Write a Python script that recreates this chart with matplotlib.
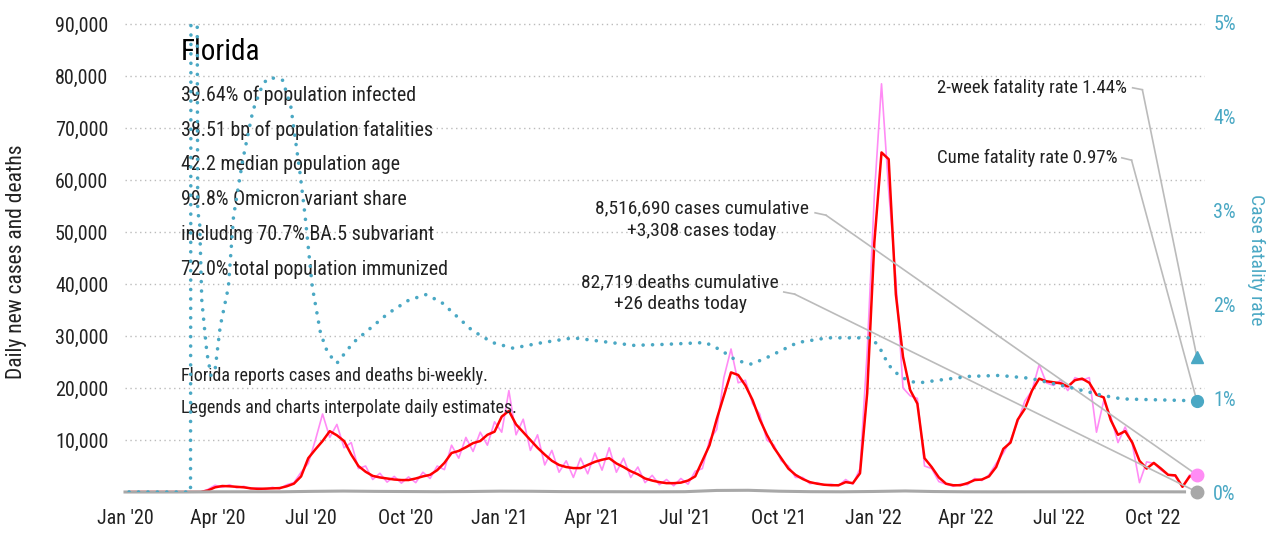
import pandas as pd
import matplotlib
matplotlib.use('Agg')
import matplotlib.pyplot as plt
import matplotlib.dates as mdates
from matplotlib import font_manager

# narrow font if we have one
avail = {f.name for f in font_manager.fontManager.ttflist}
base = 'DejaVu Sans'
for fam in ['Liberation Sans Narrow', 'Roboto Condensed', 'DejaVu Sans Condensed', 'Liberation Sans']:
    if fam in avail:
        base = fam
        break
plt.rcParams['font.family'] = [base, 'DejaVu Sans']

# daily new cases, 7-day average (weekly readings from 2020-01-05)
cases_avg = [
    0, 0, 0, 0, 0, 0, 0, 0, 0, 0,
    0, 300, 900, 1150, 1100, 1000, 900, 700, 600, 650,
    700, 750, 1100, 1600, 3000, 6500, 8200, 9800, 11700, 10900,
    9800, 7200, 5000, 3900, 3100, 2800, 2600, 2400, 2300, 2300,
    2600, 3000, 3300, 4200, 5600, 7500, 7900, 8600, 9400, 9800,
    11000, 11600, 14500, 15600, 13000, 11500, 10000, 8500, 7200, 6000,
    5200, 4800, 4600, 4600, 5200, 5800, 6200, 6500, 5500, 4800,
    4000, 3400, 2600, 2200, 1900, 1700, 1700, 1800, 2200, 3000,
    6000, 9000, 14000, 18500, 23000, 22500, 20500, 17700, 14000, 11000,
    8500, 6500, 4500, 3300, 2500, 1900, 1600, 1400, 1300, 1300,
    1900, 1700, 3600, 19000, 48000, 65300, 64000, 38000, 26000, 19600,
    17000, 6500, 4800, 2800, 1600, 1300, 1300, 1700, 2300, 2400,
    3000, 4800, 8300, 9500, 13900, 16000, 19500, 21800, 21300, 21100,
    20900, 20300, 21500, 21800, 21000, 18700, 18200, 13800, 11000, 11700,
    9500, 6000, 4500, 5600, 4500, 3300, 3200, 1000, 3000, 3308,
]

# daily new cases as reported / interpolated
cases_raw = [
    0, 0, 0, 0, 0, 0, 0, 0, 0, 0,
    0, 500, 1300, 900, 1400, 800, 1100, 600, 800, 500,
    900, 600, 1400, 1800, 3800, 5500, 10000, 15000, 10500, 13000,
    8500, 9500, 4500, 5000, 2400, 3600, 1900, 3000, 1700, 2900,
    1800, 3800, 2600, 5000, 4300, 9000, 6500, 10500, 7800, 11500,
    9000, 13500, 11500, 19500, 11000, 14000, 8000, 11000, 5200, 8000,
    3800, 6000, 2800, 6500, 3500, 7500, 4200, 8500, 3800, 6500,
    2800, 4800, 1800, 3200, 1400, 2400, 1200, 2600, 1500, 4000,
    4500, 10000, 12000, 22000, 27500, 21000, 21500, 17000, 15000, 10000,
    9000, 6000, 5000, 2800, 2800, 1600, 1800, 1300, 1500, 1200,
    2400, 1500, 4500, 27000, 57000, 78500, 58000, 41000, 20000, 18500,
    18000, 5000, 4500, 2000, 1500, 1100, 1500, 1400, 2600, 2200,
    3300, 5500, 7500, 10000, 13500, 17500, 19500, 24500, 21000, 20500,
    21500, 19500, 22000, 21500, 22000, 11500, 17500, 14500, 9500, 12500,
    9200, 1800, 5800, 5500, 4200, 3300, 3000, 1000, 3300, 3308,
]
weeks = pd.date_range('2020-01-05', periods=len(cases_avg), freq='7D')

# daily deaths, monthly readings
deaths = [0, 0, 5, 40, 45, 40, 120, 180, 120, 90, 60, 90,
          160, 140, 80, 60, 50, 40, 60, 300, 330, 150, 60, 40,
          100, 200, 90, 40, 30, 40, 40, 50, 50, 40, 26]
death_dates = pd.date_range('2020-01-01', periods=len(deaths), freq='MS')

# case fatality rate, %
cfr_dates = pd.to_datetime([
    '2020-01-05', '2020-03-05', '2020-03-06', '2020-03-10', '2020-03-12', '2020-03-14',
    '2020-03-16', '2020-03-21', '2020-03-25', '2020-03-29', '2020-04-03', '2020-04-11',
    '2020-04-16', '2020-04-25', '2020-05-05', '2020-05-15', '2020-05-22', '2020-06-03',
    '2020-06-11', '2020-06-20', '2020-06-25', '2020-07-02', '2020-07-10', '2020-07-17',
    '2020-07-26', '2020-08-11', '2020-09-14', '2020-10-04', '2020-10-21', '2020-11-05',
    '2020-12-05', '2020-12-25', '2021-01-14', '2021-02-12', '2021-03-14', '2021-04-12',
    '2021-05-12', '2021-06-10', '2021-07-21', '2021-08-05', '2021-08-20', '2021-09-04',
    '2021-09-19', '2021-10-19', '2021-11-17', '2021-12-29', '2022-01-06', '2022-01-16',
    '2022-01-26', '2022-02-05', '2022-02-14', '2022-03-06', '2022-04-05', '2022-05-04',
    '2022-06-03', '2022-06-23', '2022-07-13', '2022-08-12', '2022-09-01', '2022-11-13'])
cfr = [0, 0, 12, 12, 3.0, 2.84,
       2.04, 1.48, 1.24, 1.30, 1.76, 2.18,
       2.93, 3.53, 4.06, 4.35, 4.41, 4.38,
       4.10, 3.39, 2.93, 2.18, 1.69, 1.48,
       1.37, 1.59, 1.90, 2.04, 2.10, 2.02,
       1.72, 1.59, 1.53, 1.59, 1.64, 1.60,
       1.56, 1.57, 1.59, 1.51, 1.40, 1.36,
       1.43, 1.59, 1.64, 1.64, 1.56, 1.35,
       1.24, 1.18, 1.16, 1.19, 1.23, 1.24,
       1.21, 1.16, 1.11, 1.03, 0.99, 0.97]

cases_today = 3308
deaths_today = 26
cume_cfr = 0.97
twoweek_cfr = 1.44

stats = ['39.64% of population infected',
         '38.51 bp of population fatalities',
         '42.2 median population age',
         '99.8% Omicron variant share',
         'including 70.7% BA.5 subvariant',
         '72.0% total population immunized']

BLUE = '#4aa8c4'
PINK = '#ff8cf5'
GREY = '#bbbbbb'

fig = plt.figure(figsize=(12.84, 5.34), dpi=100)
ax = fig.add_axes([125/1284, 42/534, 1080/1284, 470/534])
ax2 = ax.twinx()

ax.plot(weeks, cases_raw, color=PINK, lw=1.2, zorder=2)
ax.plot(weeks, cases_avg, color='red', lw=1.8, zorder=3)
ax.plot(death_dates, deaths, color='#a8a8a8', lw=2.2, zorder=4, clip_on=False)
ax2.plot(cfr_dates, cfr, color=BLUE, lw=2.6, linestyle=(0, (0.01, 2.6)),
         dash_capstyle='round', zorder=2)

end = weeks[-1]
ax.plot([end], [cases_today], 'o', color=PINK, ms=9, clip_on=False, zorder=6)
ax.plot([end], [deaths_today], 'o', color='#a8a8a8', ms=9, clip_on=False, zorder=6)
ax2.plot([end], [cume_cfr], 'o', color=BLUE, ms=8.5, clip_on=False, zorder=6)
ax2.plot([end], [twoweek_cfr], '^', color=BLUE, ms=9, clip_on=False, zorder=6)

ax.set_xlim(pd.Timestamp('2020-01-01'), pd.Timestamp('2022-11-21'))
ax.set_ylim(0, 90385)
ax2.set_ylim(0, 5)

xt = pd.date_range('2020-01-01', '2022-10-01', freq='QS')
ax.set_xticks(xt)
ax.xaxis.set_major_formatter(mdates.DateFormatter("%b '%y"))
yt = list(range(10000, 90001, 10000))
ax.set_yticks(yt)
ax.set_yticklabels([f'{v:,}' for v in yt])
ax2.set_yticks(range(0, 6))
ax2.set_yticklabels([f'{v}%' for v in range(0, 6)])

ax.tick_params(axis='both', length=0, labelsize=14.5, colors='#222222')
ax.tick_params(axis='y', pad=12)
ax.tick_params(axis='x', pad=12)
ax2.tick_params(axis='y', length=0, labelsize=14.5, colors=BLUE, pad=6)
ax.yaxis.grid(True, color=GREY, linestyle=(0, (1, 2.5)), lw=1)
for a in (ax, ax2):
    for s in a.spines.values():
        s.set_visible(False)

fig.text(17/1284, 1 - 262/534, 'Daily new cases and deaths', rotation=90,
         ha='center', va='center', fontsize=15.5, color='#222222')
fig.text(1256/1284, 1 - 260/534, 'Case fatality rate', rotation=270,
         ha='center', va='center', fontsize=14, color=BLUE)

# state block
ax.text(0.052, 0.936, 'Florida', transform=ax.transAxes, fontsize=21,
        va='center', ha='left', color='black')
for i, s in enumerate(stats):
    ax.text(0.052, 0.845 - i * 0.0743, s, transform=ax.transAxes, fontsize=14.4,
            va='center', ha='left', color='#222222')
ax.text(0.052, 0.247, 'Florida reports cases and deaths bi-weekly.', transform=ax.transAxes,
        fontsize=13, va='center', ha='left', color='#222222')
ax.text(0.052, 0.179, 'Legends and charts interpolate daily estimates.', transform=ax.transAxes,
        fontsize=13, va='center', ha='left', color='#222222')

# callouts
ax.text(0.928, 0.860, f'2-week fatality rate {twoweek_cfr:.2f}%', transform=ax.transAxes,
        fontsize=13.5, ha='right', va='center', color='#222222')
ax.text(0.919, 0.711, f'Cume fatality rate {cume_cfr:.2f}%', transform=ax.transAxes,
        fontsize=13.5, ha='right', va='center', color='#222222')
ax.text(0.534, 0.579, f'{8516690:,} cases cumulative\n+{cases_today:,} cases today',
        transform=ax.transAxes, fontsize=14, ha='center', va='center',
        linespacing=1.3, color='#222222')
ax.text(0.514, 0.423, f'{82719:,} deaths cumulative\n+{deaths_today} deaths today',
        transform=ax.transAxes, fontsize=14, ha='center', va='center',
        linespacing=1.3, color='#222222')

leaders = [
    (ax2, (end, twoweek_cfr), [0.933, 0.942], [0.860, 0.856]),
    (ax2, (end, cume_cfr), [0.923, 0.932], [0.711, 0.706]),
    (ax, (end, cases_today), [0.639, 0.649], [0.594, 0.589]),
    (ax, (end, deaths_today), [0.610, 0.620], [0.4255, 0.421]),
]
for a, xy, sx, sy in leaders:
    ax.plot(sx, sy, color=GREY, lw=1.2, transform=ax.transAxes, zorder=5)
    a.annotate('', xy=xy, xytext=(sx[1], sy[1]), textcoords=ax.transAxes,
               arrowprops=dict(arrowstyle='-', color=GREY, lw=1.2,
                               shrinkA=0, shrinkB=0), zorder=5)

plt.savefig('out.png', dpi=100)
